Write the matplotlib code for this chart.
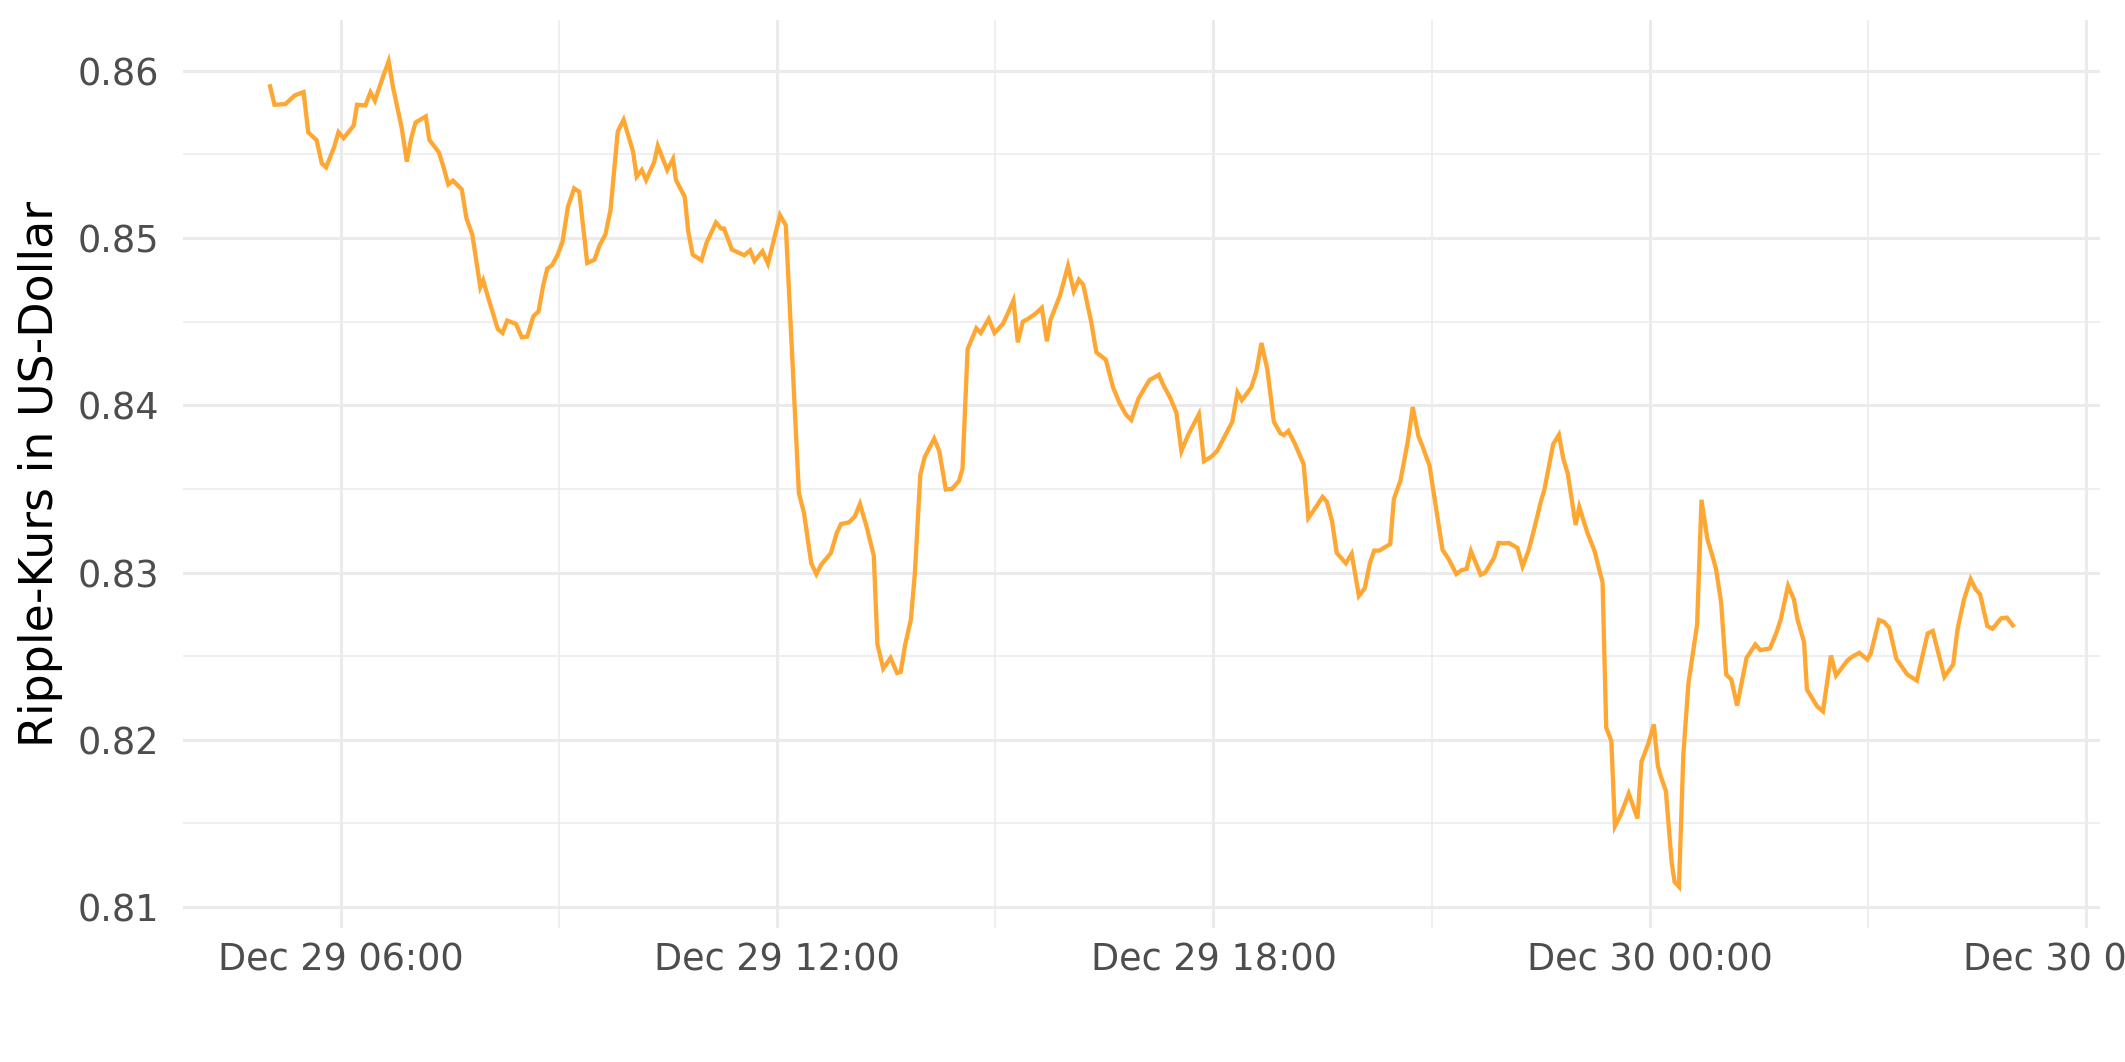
import matplotlib
matplotlib.use('Agg')
import matplotlib.pyplot as plt
import matplotlib.dates as mdates
import pandas as pd

# Ripple price, hours after Dec 29 00:00 and the price in US dollar
hours = [
    5.03, 5.09, 5.24, 5.37, 5.49, 5.555, 5.67, 5.74, 5.80, 5.91, 5.97, 6.04,
    6.18, 6.225, 6.34, 6.41, 6.47, 6.58, 6.66, 6.72, 6.84, 6.91, 6.97, 7.03,
    7.17, 7.22, 7.35, 7.41, 7.48, 7.545, 7.665, 7.73, 7.81, 7.92, 7.96, 8.03,
    8.16, 8.225, 8.29, 8.41, 8.49, 8.565, 8.65, 8.72, 8.785, 8.84, 8.905, 8.98,
    9.05, 9.125, 9.21, 9.28, 9.39, 9.49, 9.56, 9.64, 9.71, 9.81, 9.89, 10.02,
    10.07, 10.14, 10.20, 10.31, 10.36, 10.49, 10.57, 10.61, 10.73, 10.78, 10.84, 10.96,
    11.03, 11.16, 11.23, 11.27, 11.38, 11.55, 11.63, 11.69, 11.80, 11.875,
    12.04, 12.12, 12.30, 12.37, 12.47, 12.54, 12.605, 12.74, 12.82, 12.88, 12.99, 13.07,
    13.14, 13.23, 13.33, 13.38, 13.46, 13.56, 13.65, 13.70, 13.76, 13.84, 13.895, 13.97,
    14.03, 14.16, 14.23, 14.32, 14.405, 14.5, 14.55, 14.62, 14.74, 14.80, 14.91, 14.99,
    15.105, 15.17, 15.25, 15.31, 15.38, 15.45, 15.55, 15.64, 15.71, 15.76, 15.89, 16.0,
    16.08, 16.15, 16.21, 16.32, 16.39, 16.52, 16.62, 16.71, 16.80, 16.87, 16.97, 17.04,
    17.12, 17.25, 17.30, 17.41, 17.49, 17.56, 17.65, 17.80, 17.87, 17.97, 18.05, 18.26,
    18.33, 18.39, 18.52, 18.59, 18.66, 18.74, 18.83, 18.92, 18.97,
    19.03, 19.12, 19.24, 19.305, 19.41, 19.50, 19.56, 19.63, 19.695, 19.82, 19.90, 20.0,
    20.08, 20.15, 20.21, 20.28, 20.43, 20.48, 20.57, 20.67, 20.74, 20.82, 20.87, 20.97,
    21.02, 21.08, 21.15, 21.23, 21.34, 21.41, 21.48, 21.54, 21.675, 21.74, 21.86, 21.92,
    21.99, 22.06, 22.18, 22.25, 22.33, 22.40, 22.50, 22.55, 22.67, 22.75, 22.81, 22.87,
    22.98, 23.03, 23.14, 23.24, 23.35, 23.40, 23.47, 23.52, 23.60, 23.71, 23.83, 23.885,
    23.98, 24.055, 24.11, 24.15, 24.22, 24.30, 24.34, 24.40, 24.46, 24.53, 24.65, 24.71,
    24.79, 24.86, 24.91, 24.98, 25.05, 25.12, 25.2, 25.33, 25.45, 25.52, 25.65, 25.74,
    25.80, 25.90, 25.98, 26.03, 26.12, 26.16, 26.30, 26.38, 26.49, 26.56, 26.72, 26.78,
    26.88, 26.99, 27.04, 27.15, 27.22, 27.29, 27.39, 27.54, 27.67, 27.82, 27.89, 28.05,
    28.17, 28.23, 28.32, 28.41, 28.48, 28.54, 28.64, 28.71, 28.83, 28.91, 28.99,
]
prices = [
    0.85906, 0.85796, 0.85800, 0.85852, 0.85872, 0.85630, 0.85584, 0.85446, 0.85422, 0.85542, 0.85632, 0.85596,
    0.85672, 0.85796, 0.85792, 0.85870, 0.85820, 0.85960, 0.86056, 0.85900, 0.85656, 0.85456, 0.85596, 0.85690,
    0.85726, 0.85586, 0.85512, 0.85430, 0.85320, 0.85342, 0.85290, 0.85116, 0.85020, 0.84706, 0.84746, 0.84640,
    0.84456, 0.84432, 0.84506, 0.84486, 0.84406, 0.84410, 0.84532, 0.84560, 0.84716, 0.84816, 0.84836, 0.84896,
    0.84976, 0.85186, 0.85296, 0.85276, 0.84850, 0.84870, 0.84956, 0.85020, 0.85166, 0.85636, 0.85706, 0.85516,
    0.85366, 0.85406, 0.85346, 0.85452, 0.85550, 0.85406, 0.85472, 0.85346, 0.85246, 0.85036, 0.84900, 0.84866,
    0.84970, 0.85092, 0.85056, 0.85056, 0.84930, 0.84896, 0.84926, 0.84862, 0.84920, 0.84846,
    0.85136, 0.85076, 0.83476, 0.83356, 0.83056, 0.82990, 0.83046, 0.83116, 0.83236, 0.83290, 0.83300, 0.83336,
    0.83410, 0.83276, 0.83100, 0.82570, 0.82426, 0.82490, 0.82400, 0.82406, 0.82566, 0.82720, 0.82996, 0.83586,
    0.83690, 0.83800, 0.83726, 0.83496, 0.83500, 0.83546, 0.83620, 0.84336, 0.84460, 0.84432, 0.84516, 0.84432,
    0.84486, 0.84546, 0.84626, 0.84376, 0.84500, 0.84516, 0.84546, 0.84582, 0.84382, 0.84510, 0.84656, 0.84832,
    0.84682, 0.84750, 0.84720, 0.84496, 0.84316, 0.84272, 0.84106, 0.84012, 0.83942, 0.83912, 0.84040, 0.84092,
    0.84150, 0.84182, 0.84130, 0.84040, 0.83956, 0.83726, 0.83820, 0.83946, 0.83666, 0.83692, 0.83726, 0.83902,
    0.84076, 0.84030, 0.84106, 0.84202, 0.84372, 0.84216, 0.83902, 0.83832, 0.83822,
    0.83846, 0.83770, 0.83647, 0.83326, 0.83392, 0.83452, 0.83422, 0.83307, 0.83117, 0.83055, 0.83112, 0.82860,
    0.82906, 0.83055, 0.83131, 0.83131, 0.83170, 0.83438, 0.83548, 0.83778, 0.83989, 0.83812, 0.83759, 0.83640,
    0.83498, 0.83330, 0.83135, 0.83083, 0.82991, 0.83014, 0.83021, 0.83128, 0.82986, 0.83002, 0.83090, 0.83177,
    0.83174, 0.83177, 0.83147, 0.83037, 0.83128, 0.83243, 0.83422, 0.83495, 0.83766, 0.83823, 0.83679, 0.83594,
    0.83284, 0.83392, 0.83239, 0.83128, 0.82940, 0.82073, 0.81993, 0.81484, 0.81553, 0.81679, 0.81530, 0.81870,
    0.81978, 0.82092, 0.81844, 0.81782, 0.81695, 0.81266, 0.81151, 0.81122, 0.81908, 0.82337, 0.82690, 0.83435,
    0.83200, 0.83100, 0.83020, 0.82820, 0.82390, 0.82360, 0.82204, 0.82490, 0.82570, 0.82536, 0.82546, 0.82640,
    0.82720, 0.82920, 0.82840, 0.82720, 0.82584, 0.82300, 0.82200, 0.82170, 0.82504, 0.82384, 0.82476, 0.82496,
    0.82520, 0.82480, 0.82520, 0.82716, 0.82704, 0.82670, 0.82484, 0.82390, 0.82354, 0.82636, 0.82650, 0.82376,
    0.82450, 0.82660, 0.82840, 0.82960, 0.82900, 0.82870, 0.82680, 0.82664, 0.82726, 0.82730, 0.82684,
]

y_ticks = [0.81, 0.82, 0.83, 0.84, 0.85, 0.86]
y_minor = [0.815, 0.825, 0.835, 0.845, 0.855]
x_tick_hours = [6, 12, 18, 24, 30]
x_minor_hours = [9, 15, 21, 27]

start = pd.Timestamp('2018-12-29 00:00')
times = start + pd.to_timedelta(hours, unit='h')

fig = plt.figure(figsize=(10.625, 5.31), dpi=200)
ax = fig.add_axes([0.0861, 0.1262, 0.9021, 0.855])

ax.plot(times, prices, color='#FFA733', linewidth=1.55, solid_joinstyle='miter', zorder=3)

# ggplot style limits (5% expansion)
t0, t1 = min(hours), max(hours)
pad_t = (t1 - t0) * 0.05
ax.set_xlim(start + pd.Timedelta(hours=t0 - pad_t), start + pd.Timedelta(hours=t1 + pad_t))
p0, p1 = min(prices), max(prices)
pad_p = (p1 - p0) * 0.05
ax.set_ylim(p0 - pad_p, p1 + pad_p)

ax.set_xticks([start + pd.Timedelta(hours=h) for h in x_tick_hours])
ax.set_xticks([start + pd.Timedelta(hours=h) for h in x_minor_hours], minor=True)
ax.xaxis.set_major_formatter(mdates.DateFormatter('%b %d %H:%M'))
ax.set_yticks(y_ticks)
ax.set_yticks(y_minor, minor=True)
ax.set_yticklabels(['%.2f' % v for v in y_ticks])

ax.grid(which='major', color='#EBEBEB', linewidth=1.1)
ax.grid(which='minor', color='#EBEBEB', linewidth=0.55)
ax.set_axisbelow(True)
for s in ax.spines.values():
    s.set_visible(False)
ax.tick_params(which='both', length=0)
ax.tick_params(axis='y', labelsize=13.2, labelcolor='#4D4D4D', pad=8.5)
ax.tick_params(axis='x', labelsize=13.2, labelcolor='#4D4D4D', pad=5)

fig.text(40.5 / 2125, 0.5537, 'Ripple-Kurs in US-Dollar', rotation=90,
         ha='center', va='center', fontsize=16.5, color='black')

fig.savefig('out.png', dpi=200)
